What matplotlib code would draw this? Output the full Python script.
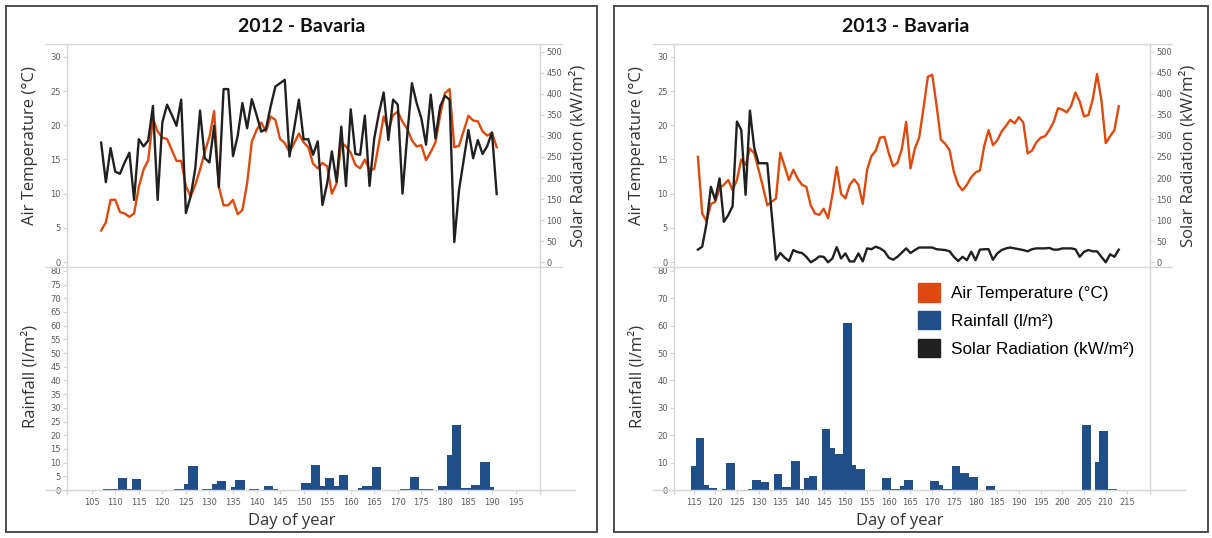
import numpy as np
import matplotlib
matplotlib.use('Agg')
import matplotlib.pyplot as plt
from matplotlib.lines import Line2D
from matplotlib.patches import Rectangle, Patch

W, H = 1212, 538

# Bavaria 2012, daily values for days 107-191
days_2012 = np.arange(107, 192)
temp_2012 = [4.6, 5.8, 9.1, 9.1, 7.3, 7.1, 6.6, 7.1, 11.0, 13.5, 14.9, 21.0, 19.1, 18.2, 18.0, 16.4,
             14.8, 14.8, 11.1, 9.6, 11.3, 13.5, 16.1, 18.3, 22.1, 11.0, 8.3, 8.3, 9.1, 7.0, 7.6,
             11.5, 17.6, 19.3, 20.4, 19.1, 21.3, 20.8, 18.0, 17.4, 16.1, 17.4, 18.8, 17.5, 16.8, 14.4,
             13.7, 14.5, 14.0, 10.0, 11.5, 17.5, 16.9, 16.0, 14.2, 13.7, 15.0, 13.5, 13.6, 17.4, 21.3, 19.3,
             21.5, 22.0, 20.5, 19.5, 17.8, 16.9, 17.1, 14.9, 16.1, 17.5, 21.5, 24.7, 25.3, 16.8, 17.0,
             19.2, 21.4, 20.7, 20.6, 19.1, 18.5, 18.9, 16.8]
solar_2012 = [284, 190, 271, 215, 210, 237, 260, 148, 292, 275, 289, 371, 148, 332, 374, 350, 324, 386,
              117, 156, 223, 360, 247, 237, 324, 178, 411, 411, 252, 300, 378,
              318, 387, 350, 310, 316, 370, 417, 425, 433, 251, 318, 386, 292, 292, 255, 287, 136, 187,
              263, 191, 322, 181, 363, 257, 255, 348, 181, 294, 354, 403,
              290, 386, 374, 163, 300, 425, 378, 342, 279, 398, 294, 370, 395, 386, 48, 171, 243, 314,
              247, 290, 257, 276, 308, 162]
rain_days_2012 = [108, 109, 110, 111, 112, 113, 114, 115, 123, 124, 125, 126, 127, 129, 130, 131, 132, 133,
                  135, 136, 137, 139, 140, 142, 143, 144, 150, 151, 152, 153, 154, 155, 156, 157, 158, 159,
                  162, 163, 164, 165, 166, 171, 172, 173, 174, 175, 176, 177, 179, 180, 181, 182, 183, 184,
                  185, 186, 187, 188, 189, 190]
rain_2012 = [0.2, 0.2, 0.2, 4.4, 4.4, 0.2, 3.9, 3.9, 0.4, 0.4, 2.1, 8.7, 8.7, 0.4, 0.4, 2.1, 3.3, 3.3,
             1.2, 3.5, 3.5, 0.2, 0.2, 1.6, 1.6, 0.4, 2.5, 2.5, 9.0, 9.0, 1.6, 4.4, 4.4, 1.5, 5.5, 5.5,
             0.6, 1.3, 1.3, 8.5, 8.5, 0.2, 0.2, 4.7, 4.7, 0.2, 0.4, 0.4, 1.3, 1.3, 12.8, 23.9, 23.9, 0.6,
             0.6, 1.8, 1.8, 10.3, 10.3, 1.2]

# Bavaria 2013, daily values for days 116-213
days_2013 = np.arange(116, 214)
temp_2013 = [15.4, 7.1, 6.0, 8.5, 8.8, 10.8, 11.3, 12.0, 10.5, 12.0, 15.0, 14.2, 16.6, 15.9, 13.5, 11.0,
             8.3, 8.8, 9.3, 16.0, 14.0, 12.0, 13.5, 12.2, 11.3, 11.0, 8.3, 7.1, 6.9, 7.8, 6.4, 9.8, 13.9,
             10.0, 9.3, 11.3, 12.1, 11.3, 8.5, 13.5, 15.5, 16.3, 18.2, 18.3, 15.9, 14.0, 14.5, 16.5, 20.5,
             13.7, 16.6, 18.2, 22.5, 27.1, 27.4, 23.0, 17.9, 17.3, 16.4, 13.2, 11.3, 10.5, 11.3, 12.4,
             13.1, 13.4, 17.0,
             19.3, 17.1, 17.8, 19.1, 19.9, 20.8, 20.3, 21.2, 20.4, 15.9, 16.3, 17.5, 18.2, 18.4, 19.3,
             20.5, 22.5, 22.3, 21.9, 22.8, 24.8, 23.5, 21.3, 21.5, 23.8, 27.5, 23.7, 17.4, 18.4, 19.3, 22.8]
solar_2013 = [30, 37, 92, 179, 148, 199, 96, 112, 133, 334, 314, 160, 360, 271, 235, 235, 235, 116, 6,
              22, 11, 3, 29, 24, 22, 13, 0, 6, 14, 13, 0, 9, 36,
              9, 21, 2, 2, 21, 2, 33, 31, 37, 33, 26, 11, 6, 13, 23, 33, 22, 29, 35, 35, 35, 35, 31, 30,
              29, 26, 13, 3, 13, 5, 25, 5, 30, 31,
              31, 6, 21, 29, 33, 35, 33, 31, 29, 26, 31, 33, 33, 33, 34, 30, 30, 33, 33, 33, 31, 13, 25,
              29, 26, 26, 13, 0, 19, 13, 30]
rain_days_2013 = [115, 116, 117, 118, 119, 120, 122, 123, 124, 128, 129, 130, 131, 132, 134, 135, 136, 137,
                  138, 139, 140, 141, 142, 143, 145, 146, 147, 148, 149, 150, 151, 152, 153, 154, 159, 160,
                  161, 162, 163, 164, 165, 170, 171, 172, 173, 174, 175, 176, 177, 178, 179, 180, 183, 184,
                  205, 206, 208, 209, 210, 211, 212]
rain_2013 = [8.7, 19, 19, 2.0, 0.9, 0.9, 0.2, 10, 10, 0.3, 3.6, 3.6, 3.0, 3.0, 5.7, 5.7, 1.2, 1.2,
             10.7, 10.7, 0.5, 4.2, 5.2, 5.2, 22.2, 22.2, 15.4, 13.1, 13.1, 61, 61, 9.3, 7.6, 7.6, 4.2, 4.2,
             0.3, 0.3, 1.5, 3.8, 3.8, 3.2, 3.2, 1.9, 0.3, 0.3, 8.7, 8.7, 6.3, 6.3, 4.8, 4.8, 1.5, 1.5,
             23.9, 23.9, 10.4, 21.5, 21.5, 0.3, 0.3]

series_names = ['Air Temperature (°C)', 'Rainfall (l/m²)', 'Solar Radiation (kW/m²)']

ORANGE = '#dc4a0e'
BLUE = '#1f4e89'
DARK = '#202020'
RULE = '#d6d6d6'
TICKC = '#5a5a5a'
LABEL_FONT = ['Open Sans', 'DejaVu Sans']
TICK_FONT = ['Liberation Sans Narrow', 'DejaVu Sans']


def frac(x, y):
    return x / W, 1 - y / H


def box(x0, y0, x1, y1):
    return [x0 / W, 1 - y1 / H, (x1 - x0) / W, (y1 - y0) / H]


def rule(fig, x0, y0, x1, y1, color=RULE, lw=1.0):
    (a, b), (c, d) = frac(x0, y0), frac(x1, y1)
    fig.add_artist(Line2D([a, c], [b, d], color=color, lw=lw, transform=fig.transFigure))


def clean(ax):
    for s in ax.spines.values():
        s.set_visible(False)
    ax.patch.set_visible(False)
    ax.tick_params(length=3, width=0.8, color=RULE, labelsize=6, labelcolor=TICKC, pad=1.5)
    for lab in ax.get_xticklabels() + ax.get_yticklabels():
        lab.set_fontfamily(TICK_FONT)


def panel(fig, frame, left, right, title, title_x, xlim, xticks, rain_step,
          days, temp, solar, rain_days, rain):
    fx0, fx1 = frame
    fig.add_artist(Rectangle(frac(fx0, 532), (fx1 - fx0) / W, 526 / H, transform=fig.transFigure,
                             fill=False, ec='#4d4d4d', lw=1.4))
    fig.text(title_x / W, 1 - 27 / H, title, ha='center', va='center', size=14, weight='bold',
             family=['Lato', 'DejaVu Sans'], color='#111111')

    # grey rules framing the two plot areas
    rule(fig, left - 21, 44, right + 22, 44)
    rule(fig, left - 21, 267, right + 22, 267)
    rule(fig, left - 21, 490, right + 35, 490)
    rule(fig, left, 44, left, 494)
    rule(fig, right, 44, right, 494)

    # temperature and solar radiation share the upper area
    ax_t = fig.add_axes(box(left, 44, right, 267))
    ax_t.plot(days, temp, color=ORANGE, lw=1.7, solid_joinstyle='round')
    ax_t.set_xlim(xlim)
    ax_t.set_ylim(-0.73, 31.9)
    ax_t.set_yticks(np.arange(0, 31, 5))
    ax_t.set_xticks([])
    clean(ax_t)

    ax_s = ax_t.twinx()
    ax_s.plot(days, solar, color=DARK, lw=1.7, solid_joinstyle='round')
    ax_s.set_ylim(-11.2, 518)
    ax_s.set_yticks(np.arange(0, 501, 50))
    ax_s.set_xticks([])
    clean(ax_s)

    # rainfall bars below
    ax_r = fig.add_axes(box(left, 267, right, 490))
    ax_r.bar(rain_days, rain, width=1.0, color=BLUE, linewidth=0)
    ax_r.set_xlim(xlim)
    ax_r.set_ylim(0, 81.4)
    ax_r.set_yticks(np.arange(0, 81, rain_step))
    ax_r.set_xticks(xticks)
    clean(ax_r)
    ax_r.tick_params(axis='x', pad=3)

    lab = dict(ha='center', va='center', family=LABEL_FONT, size=12, color='#333333')
    fig.text(*frac(left - 37, 146), 'Air Temperature (°C)', rotation=90, **lab)
    fig.text(*frac(right + 38, 156), 'Solar Radiation (kW/m²)', rotation=90, **lab)
    fig.text(*frac(left - 37, 377), 'Rainfall (l/m²)', rotation=90, **lab)
    fig.text(*frac((left + right) / 2 - 12, 521), 'Day of year', **lab)
    return ax_r


fig = plt.figure(figsize=(W / 100, H / 100), dpi=100)

panel(fig, (6, 597), 67, 540, '2012 - Bavaria', 302, (99.75, 200.2), np.arange(105, 196, 5), 5,
      days_2012, temp_2012, solar_2012, rain_days_2012, rain_2012)
panel(fig, (614, 1208), 674, 1150, '2013 - Bavaria', 906, (110.5, 220.2), np.arange(115, 216, 5), 10,
      days_2013, temp_2013, solar_2013, rain_days_2013, rain_2013)

handles = [Patch(color=ORANGE), Patch(color=BLUE), Patch(color=DARK)]
fig.legend(handles, series_names, loc='upper left', bbox_to_anchor=frac(918, 283), frameon=False,
           borderpad=0, borderaxespad=0, handlelength=1.29, handleheight=1.29, handletextpad=0.64,
           labelspacing=0.55, prop=dict(family=['Liberation Sans', 'DejaVu Sans'], size=12.3))

fig.savefig('out.png', dpi=100)
